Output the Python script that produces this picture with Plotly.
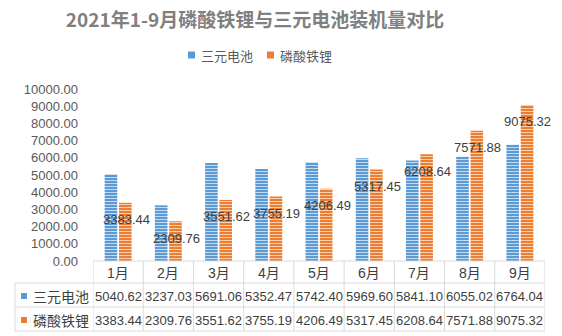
import plotly.graph_objects as go

months = ["1月", "2月", "3月", "4月", "5月", "6月", "7月", "8月", "9月"]
ternary = [5040.62, 3237.03, 5691.06, 5352.47, 5742.40, 5969.60, 5841.10, 6055.02, 6764.04]
lfp = [3383.44, 2309.76, 3551.62, 3755.19, 4206.49, 5317.45, 6208.64, 7571.88, 9075.32]
series_names = ["三元电池", "磷酸铁锂"]
series_values = [ternary, lfp]
colors = ["#5B9BD5", "#ED7D31"]
title_text = "2021年1-9月磷酸铁锂与三元电池装机量对比"

W, H = 562, 336
L, R, T, B = 93, 17, 89, 75
PW, PH = W - L - R, H - T - B
FONT = "Liberation Sans, Noto Sans CJK SC, sans-serif"
CJK = "Noto Sans CJK SC, sans-serif"
GRID = "#d9d9d9"
TXT = "#404040"


def py(p):
    return (H - B - p) / PH


def px(p):
    return (p - L) / PW


fig = go.Figure()
for name, vals, col in zip(series_names, series_values, colors):
    fig.add_trace(go.Bar(
        x=months, y=vals, name=name, showlegend=False,
        marker=dict(color=col, line=dict(width=0),
                    pattern=dict(shape="-", fgcolor="white", bgcolor=col, fgopacity=0.7,
                                 size=3, solidity=0.3, fillmode="replace")),
    ))

annotations = []
shapes = []

# data labels for LFP series
for m, v in zip(months, lfp):
    annotations.append(dict(x=m, y=v, xref="x", yref="y", text=f"{v:.2f}",
                            showarrow=False, xshift=8, yshift=-17,
                            xanchor="center", yanchor="middle",
                            font=dict(family=FONT, size=13, color=TXT)))

# table header and values
row_y = [296, 320]
for i, m in enumerate(months):
    annotations.append(dict(x=m, y=py(273), xref="x", yref="paper", text=m,
                            xanchor="center", yanchor="middle", showarrow=False,
                            font=dict(family=FONT, size=14, color=TXT)))
    for r, vals in enumerate(series_values):
        annotations.append(dict(x=m, y=py(row_y[r]), xref="x", yref="paper",
                                text=f"{vals[i]:.2f}", showarrow=False,
                                xanchor="center", yanchor="middle",
                                font=dict(family=FONT, size=13, color=TXT)))

# row labels with keys
for r, (name, col) in enumerate(zip(series_names, colors)):
    yc = row_y[r]
    shapes.append(dict(type="rect", xref="paper", yref="paper",
                       x0=px(21), x1=px(27), y0=py(yc - 3), y1=py(yc + 3),
                       fillcolor=col, line=dict(width=0)))
    annotations.append(dict(x=px(31), y=py(yc), xref="paper", yref="paper",
                            text=name, xanchor="left", yanchor="middle", showarrow=False,
                            font=dict(family=CJK, size=14, color=TXT)))

# table grid
shapes.append(dict(type="line", xref="paper", yref="paper", x0=0, x1=1,
                   y0=py(261), y1=py(261), line=dict(color=GRID, width=1)))
for yy in [283, 307, 331]:
    shapes.append(dict(type="line", xref="paper", yref="paper", x0=px(15), x1=1,
                       y0=py(yy), y1=py(yy), line=dict(color=GRID, width=1)))
for k in range(len(months) + 1):
    shapes.append(dict(type="line", xref="x", yref="paper", x0=k - 0.5, x1=k - 0.5,
                       y0=py(261), y1=py(331), line=dict(color=GRID, width=1)))
shapes.append(dict(type="line", xref="paper", yref="paper", x0=px(15), x1=px(15),
                   y0=py(283), y1=py(331), line=dict(color=GRID, width=1)))

# legend (manual)
leg_pos = [188, 267]
for name, col, x0 in zip(series_names, colors, leg_pos):
    shapes.append(dict(type="rect", xref="paper", yref="paper",
                       x0=px(x0), x1=px(x0 + 7), y0=py(58.5), y1=py(51.5),
                       fillcolor=col, line=dict(width=0)))
    annotations.append(dict(x=px(x0 + 11), y=py(55), xref="paper", yref="paper",
                            text=name, xanchor="left", yanchor="middle", showarrow=False,
                            font=dict(family=CJK, size=13, color="#595959")))

fig.update_layout(
    width=W, height=H,
    margin=dict(l=L, r=R, t=T, b=B),
    paper_bgcolor="white", plot_bgcolor="white",
    barmode="group", bargap=0.43, bargroupgap=0.12,
    title=dict(text=title_text, x=255 / W, xref="container", xanchor="center",
               y=1 - 20 / H, yref="container", yanchor="middle",
               font=dict(family=CJK, size=19, color="#808080", weight="bold")),
    xaxis=dict(showticklabels=False, showgrid=False, zeroline=False, showline=False,
               range=[-0.5, len(months) - 0.5]),
    yaxis=dict(range=[0, 10000], dtick=1000, tickformat=".2f", showgrid=False,
               zeroline=False, showline=False, ticks="", ticklabelstandoff=14,
               tickfont=dict(family=FONT, size=13, color="#595959")),
    annotations=annotations, shapes=shapes,
    showlegend=False,
)

fig.write_html("out.html")
